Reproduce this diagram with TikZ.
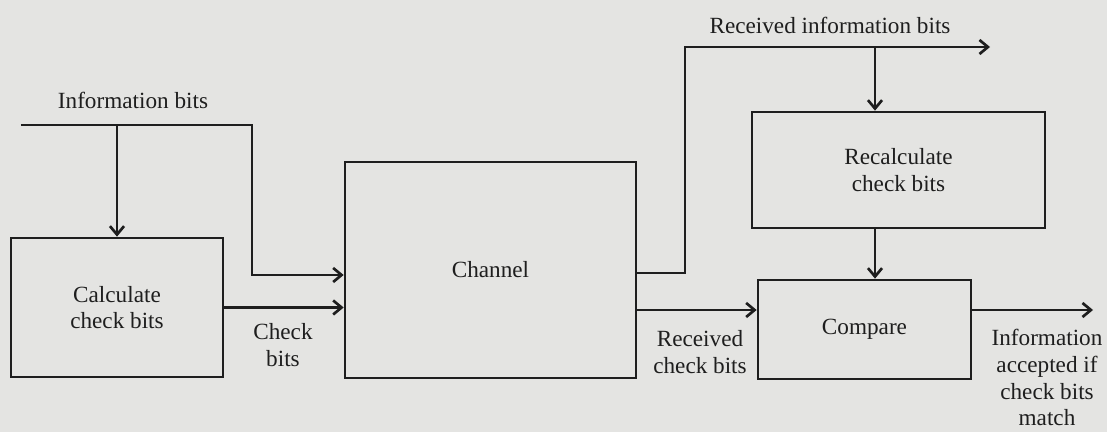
\documentclass[tikz,border=0pt]{standalone}
\usepackage{fontspec}
\setmainfont{Liberation Serif}
\usetikzlibrary{arrows.meta, positioning, calc}
\definecolor{grisPapel}{RGB}{228, 228, 226}
\definecolor{tinta}{RGB}{30, 30, 30}

\begin{document}
\begin{tikzpicture}[
            bloque/.style={rectangle, draw=tinta, line width=1.9pt, align=center, text=tinta, font=\fontsize{16.5}{19}\selectfont, inner sep=0pt},
            etiqueta/.style={align=center, text=tinta, font=\fontsize{16.5}{19}\selectfont, inner sep=0pt},
            flecha/.style={-{Straight Barb[length=6pt, width=10pt, line width=1.9pt]}, line width=1.9pt, tinta}]

            \fill[grisPapel] (0,0) rectangle (27.675,10.8);
            \useasboundingbox (0,0) rectangle (27.675,10.8);

            % bloques
            \node[bloque, minimum width=5.3cm, minimum height=3.475cm] (calc) at (2.925,3.1125) {Calculate\\check bits};
            \node[bloque, minimum width=7.275cm, minimum height=5.4cm] (canal) at (12.2625,4.05) {Channel};
            \node[bloque, minimum width=7.325cm, minimum height=2.9cm] (recalc) at (22.4625,6.55) {Recalculate\\check bits};
            \node[bloque, minimum width=5.325cm, minimum height=2.475cm] (comp) at (21.6125,2.5625) {Compare};

            % etiquetas
            \node[etiqueta] (infoBits) at (3.325,8.3) {Information bits};
            \node[etiqueta] (chkBits) at (7.075,2.175) {Check\\bits};
            \node[etiqueta] (recChk) at (17.5,2.0) {Received\\check bits};
            \node[etiqueta] (recInfo) at (20.75,10.175) {Received information bits};
            \node[etiqueta] (acept) at (26.175,1.36) {Information\\accepted if\\check bits\\match};

            % puntos de paso
            \coordinate (ini) at (0.525,7.675);
            \coordinate (esqInfo) at (6.3,7.675);
            \coordinate (esqRec) at (17.125,9.625);
            \coordinate (finRec) at (24.75,9.625);
            \coordinate (ramRec) at (21.875,9.625);
            \coordinate (salida) at (27.325,3.05);

            % conexiones
            \draw[flecha] (ini) -- (esqInfo) |- ([yshift=-0.125cm]canal.west);
            \draw[flecha] (calc.north |- ini) -- (calc.north);
            \draw[flecha] (calc.east) -- (calc.east -| canal.west);
            \draw[flecha] ([yshift=-0.075cm]canal.east) -| (esqRec) -- (finRec);
            \draw[flecha] (ramRec) -- (ramRec |- recalc.north);
            \draw[flecha] (recalc.south -| ramRec) -- (comp.north -| ramRec);
            \draw[flecha] (canal.east |- salida) -- (comp.west |- salida);
            \draw[flecha] (comp.east |- salida) -- (salida);
        \end{tikzpicture}
\end{document}
